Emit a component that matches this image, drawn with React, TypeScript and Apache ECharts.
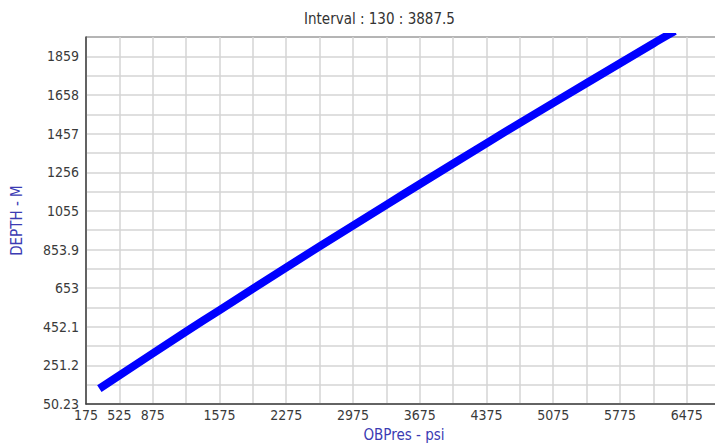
import React, { useEffect, useRef } from "react";
import * as echarts from "echarts";

const titleText = "Interval : 130 : 3887.5";
const xName = "OBPres - psi";
const yName = "DEPTH - M";

// x grid every 350 psi from 175; labelled values
const xGridValues = [175, 525, 875, 1225, 1575, 1925, 2275, 2625, 2975, 3325, 3675, 4025, 4375, 4725, 5075, 5425, 5775, 6125, 6475, 6825];
const xLabelValues = [175, 525, 875, 1575, 2275, 2975, 3675, 4375, 5075, 5775, 6475];

// y labelled ticks and intermediate grid lines
const yLabelValues = [50.23, 251.2, 452.1, 653, 853.9, 1055, 1256, 1457, 1658, 1859];
const yGridValues = [50.23, 150.7, 251.2, 351.7, 452.1, 552.6, 653, 753.5, 853.9, 954.5, 1055, 1155.5, 1256, 1356.5, 1457, 1557.5, 1658, 1758.5, 1859];

const pressure = [315, 1224, 1573, 2273, 2629, 3329, 3678, 4378, 4727, 5427, 6125, 6350];
const depth = [131, 427, 538, 760, 872, 1088, 1195, 1408, 1513, 1720, 1926, 1990];

const X_MIN = 175;
const X_MAX = 6845;
const Y_MIN = 50.23;
const Y_MAX = 1959.5;

export default function App() {
  const ref = useRef<HTMLDivElement>(null);

  useEffect(() => {
    if (!ref.current) return;
    const chart = echarts.init(ref.current, null, { renderer: "svg" });
    const font = "'DejaVu Sans Condensed', 'DejaVu Sans', sans-serif";
    chart.setOption({
      animation: false,
      backgroundColor: "#ffffff",
      title: {
        text: titleText,
        left: 299,
        top: 6,
        textStyle: { fontFamily: font, fontSize: 15, fontWeight: "normal", color: "#333333" },
      },
      grid: {
        left: 86,
        right: 18,
        top: 37,
        bottom: 40.5,
        show: true,
        borderColor: "#6a6a6a",
        borderWidth: 1,
        backgroundColor: "#ffffff",
      },
      xAxis: {
        type: "value",
        min: X_MIN,
        max: X_MAX,
        name: xName,
        nameLocation: "middle",
        nameGap: 22,
        nameTextStyle: { fontFamily: font, fontSize: 15, color: "#3b3bb3" },
        axisLine: { show: true, onZero: false, lineStyle: { color: "#404040", width: 1.5 } },
        axisTick: { show: false, customValues: xGridValues },
        axisLabel: {
          customValues: xLabelValues,
          formatter: (v: number) => String(v),
          fontFamily: font,
          fontSize: 14,
          color: "#3a3a3a",
          margin: 4,
          showMinLabel: true,
          showMaxLabel: true,
          hideOverlap: false,
        },
        splitLine: { show: true, lineStyle: { color: "#d4d4d4", width: 1.5 } },
      },
      yAxis: {
        type: "value",
        min: Y_MIN,
        max: Y_MAX,
        name: yName,
        nameLocation: "middle",
        nameGap: 62,
        nameTextStyle: { fontFamily: font, fontSize: 15, color: "#3b3bb3" },
        axisLine: { show: true, onZero: false, lineStyle: { color: "#404040", width: 1.5 } },
        axisTick: { show: false, customValues: yGridValues },
        axisLabel: {
          customValues: yLabelValues,
          formatter: (v: number) => String(v),
          fontFamily: font,
          fontSize: 14,
          color: "#3a3a3a",
          margin: 7,
          showMinLabel: true,
          showMaxLabel: true,
          hideOverlap: false,
        },
        splitLine: { show: true, lineStyle: { color: "#d4d4d4", width: 1.5 } },
      },
      series: [
        {
          type: "line",
          data: pressure.map((p, i) => [p, depth[i]]),
          showSymbol: false,
          symbol: "none",
          clip: true,
          smooth: 0.3,
          lineStyle: { color: "#0000ff", width: 8, cap: "butt", join: "round" },
        },
      ],
    });
    return () => chart.dispose();
  }, []);

  return (
    <div
      style={{
        position: "fixed",
        left: 0,
        top: 0,
        width: 715,
        height: 447,
        overflow: "hidden",
        background: "#ffffff",
      }}
    >
      <div ref={ref} style={{ width: 740, height: 447 }} />
    </div>
  );
}
